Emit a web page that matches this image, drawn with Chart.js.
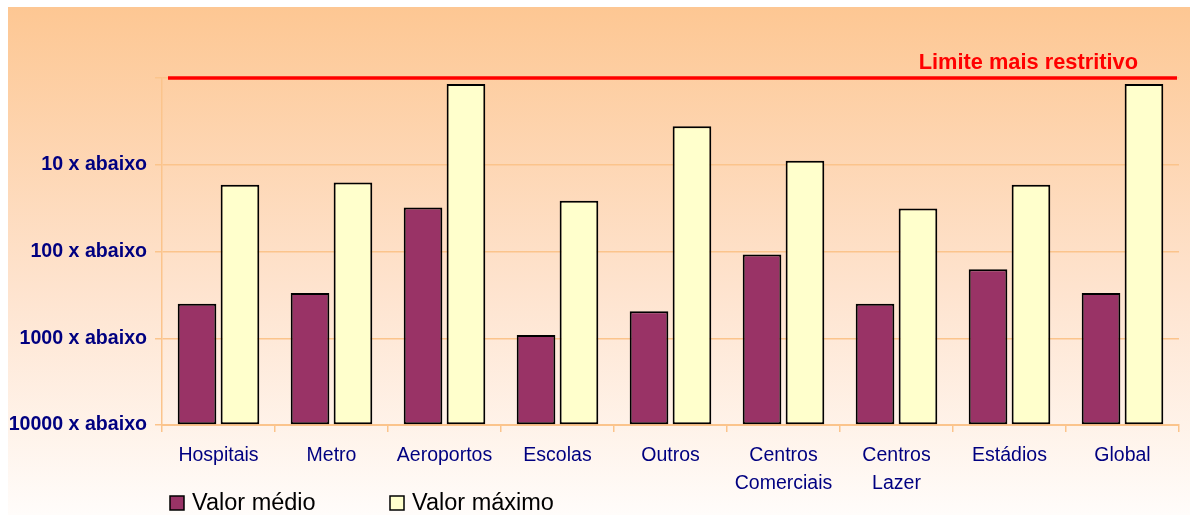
<!DOCTYPE html>
<html lang="pt">
<head>
<meta charset="utf-8">
<title>Valores face ao limite mais restritivo</title>
<script src="https://cdn.jsdelivr.net/npm/chart.js@4.4.1/dist/chart.umd.min.js"></script>
<style>
  html, body { margin: 0; padding: 0; background: #ffffff; }
  canvas { display: block; }
</style>
</head>
<body>
<canvas id="grafico" width="1190" height="515"></canvas>
<script>
// Categorias do eixo horizontal
const categorias = [
  'Hospitais', 'Metro', 'Aeroportos', 'Escolas', 'Outros',
  ['Centros', 'Comerciais'], ['Centros', 'Lazer'], 'Estádios', 'Global'
];

// Quantas vezes abaixo do limite mais restritivo
const valorMedio  = [400, 300, 31, 920, 490, 108, 400, 160, 300];
const valorMaximo = [17, 16, 1.17, 26, 3.6, 9, 32, 17, 1.17];

// Marcas do eixo vertical (escala logarítmica invertida)
const marcasEixo = [1, 10, 100, 1000, 10000];
const baseEixo = 10000;
const limiteMaisRestritivo = 1;
const textoLimite = 'Limite mais restritivo';

const FONTE = '"Liberation Sans", Arial, Helvetica, sans-serif';
const COR_GRELHA = '#FBC48C';

// Fundo em degradê pêssego -> branco
const fundo = {
  id: 'fundo',
  beforeDraw(chart) {
    const { ctx, width, height } = chart;
    ctx.save();
    ctx.fillStyle = '#ffffff';
    ctx.fillRect(0, 0, width, height);
    const g = ctx.createLinearGradient(0, 7, 0, height);
    g.addColorStop(0, '#FDC793');
    g.addColorStop(0.55, '#FEE3CE');
    g.addColorStop(1, '#FFFCFA');
    ctx.fillStyle = g;
    ctx.fillRect(8, 7, width - 8, height - 7);
    ctx.restore();
  }
};

// Linha vermelha do limite e respetivo texto
const linhaLimite = {
  id: 'linhaLimite',
  afterDatasetsDraw(chart) {
    const { ctx, chartArea } = chart;
    const y = chart.scales.y.getPixelForValue(limiteMaisRestritivo);
    ctx.save();
    ctx.strokeStyle = '#FF0000';
    ctx.lineWidth = 3.5;
    ctx.beginPath();
    ctx.moveTo(chartArea.left + 6, y);
    ctx.lineTo(chartArea.right - 2, y);
    ctx.stroke();
    ctx.font = 'bold 21.8px ' + FONTE;
    ctx.fillStyle = '#FF0000';
    ctx.textAlign = 'right';
    ctx.textBaseline = 'alphabetic';
    ctx.fillText(textoLimite, chartArea.right - 41, y - 9);
    ctx.restore();
  }
};

// Legenda por baixo do eixo horizontal
const legenda = {
  id: 'legenda',
  afterDraw(chart) {
    const { ctx, chartArea } = chart;
    const yc = chartArea.bottom + 78;
    ctx.save();
    ctx.font = '23.5px ' + FONTE;
    ctx.textBaseline = 'middle';
    ctx.textAlign = 'left';
    chart.data.datasets.forEach((ds, i) => {
      const x = chartArea.left + 8 + i * 220;
      ctx.fillStyle = ds.backgroundColor;
      ctx.fillRect(x, yc - 7, 14, 14);
      ctx.strokeStyle = '#000000';
      ctx.lineWidth = 1.5;
      ctx.strokeRect(x, yc - 7, 14, 14);
      ctx.fillStyle = '#000000';
      ctx.fillText(ds.label, x + 22, yc + 1);
    });
    ctx.restore();
  }
};

new Chart(document.getElementById('grafico'), {
  type: 'bar',
  data: {
    labels: categorias,
    datasets: [
      {
        label: 'Valor médio',
        data: valorMedio,
        base: baseEixo,
        backgroundColor: '#993366',
        borderColor: '#000000',
        borderWidth: 2,
        borderSkipped: false,
        categoryPercentage: 0.76,
        barPercentage: 0.9
      },
      {
        label: 'Valor máximo',
        data: valorMaximo,
        base: baseEixo,
        backgroundColor: '#FFFFCC',
        borderColor: '#000000',
        borderWidth: 2,
        borderSkipped: false,
        categoryPercentage: 0.76,
        barPercentage: 0.9
      }
    ]
  },
  options: {
    responsive: false,
    animation: false,
    layout: { padding: { left: 0, top: 78, right: 11, bottom: 10 } },
    plugins: {
      legend: { display: false },
      tooltip: { enabled: false }
    },
    scales: {
      x: {
        offset: true,
        grid: {
          display: true,
          drawOnChartArea: false,
          drawTicks: true,
          tickLength: 7,
          color: COR_GRELHA,
          lineWidth: 1.5,
          offset: true
        },
        border: { color: COR_GRELHA, width: 2 },
        ticks: {
          color: '#000080',
          font: { family: FONTE, size: 19.5, lineHeight: 1.44 },
          padding: 10,
          maxRotation: 0,
          autoSkip: false
        },
        afterFit(scale) { scale.height = 80; }
      },
      y: {
        type: 'logarithmic',
        reverse: true,
        min: marcasEixo[0],
        max: marcasEixo[marcasEixo.length - 1],
        afterBuildTicks(scale) {
          scale.ticks = marcasEixo.map(v => ({ value: v }));
        },
        grid: { color: COR_GRELHA, lineWidth: 1.5, tickLength: 7 },
        border: { color: COR_GRELHA, width: 1.5 },
        ticks: {
          color: '#000080',
          font: { family: FONTE, size: 19.6, weight: 'bold' },
          padding: 8,
          callback: v => (v === limiteMaisRestritivo ? '' : v + ' x abaixo')
        },
        afterFit(scale) { scale.width = 162; }
      }
    }
  },
  plugins: [fundo, linhaLimite, legenda]
});
</script>
</body>
</html>
